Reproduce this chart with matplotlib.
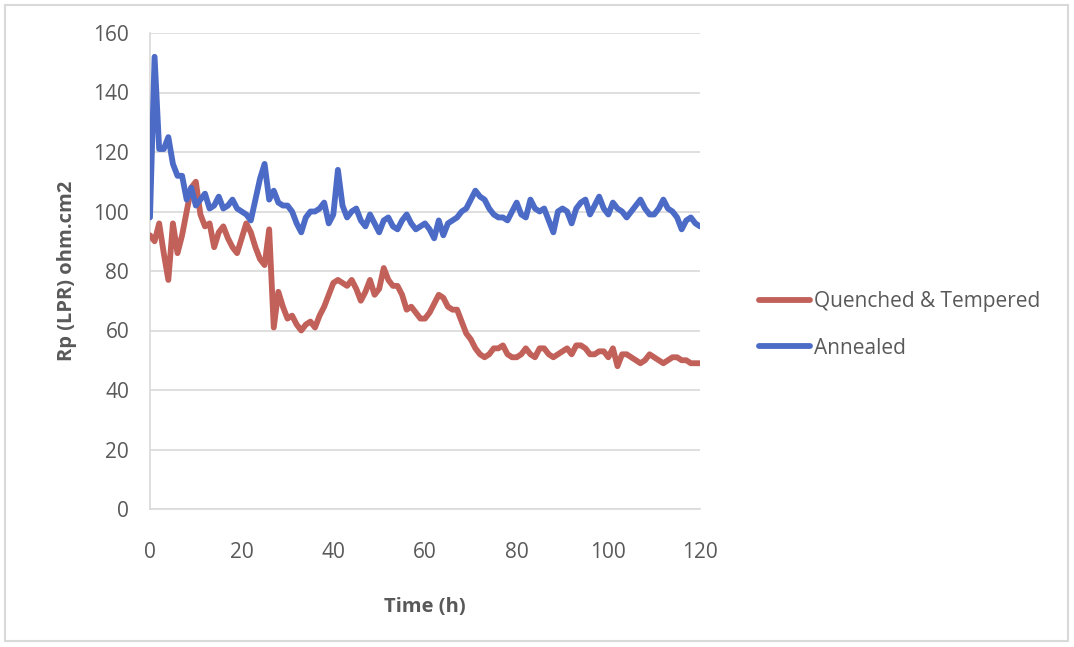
import matplotlib
matplotlib.use("Agg")
import matplotlib.pyplot as plt
from matplotlib.patches import Rectangle

# ── Data (1 h spacing) ────────────────────────────────────────────────────────
HOURS = list(range(121))

QT_RP = [
    92, 90, 96, 86, 77, 96, 86, 92, 100, 108,
    110, 99, 95, 96, 88, 93, 95, 91, 88, 86,
    91, 96, 93, 88, 84, 82, 94, 61, 73, 68,
    64, 65, 62, 60, 62, 63, 61, 65, 68, 72,
    76, 77, 76, 75, 77, 74, 70, 73, 77, 72,
    74, 81, 77, 75, 75, 72, 67, 68, 66, 64,
    64, 66, 69, 72, 71, 68, 67, 67, 63, 59,
    57, 54, 52, 51, 52, 54, 54, 55, 52, 51,
    51, 52, 54, 52, 51, 54, 54, 52, 51, 52,
    53, 54, 52, 55, 55, 54, 52, 52, 53, 53,
    51, 54, 48, 52, 52, 51, 50, 49, 50, 52,
    51, 50, 49, 50, 51, 51, 50, 50, 49, 49,
    49,
]

ANNEALED_RP = [
    98, 152, 121, 121, 125, 116, 112, 112, 104, 108,
    102, 104, 106, 101, 102, 105, 101, 102, 104, 101,
    100, 99, 97, 104, 111, 116, 104, 107, 103, 102,
    102, 100, 96, 93, 98, 100, 100, 101, 103, 96,
    99, 114, 102, 98, 100, 101, 97, 95, 99, 96,
    93, 97, 98, 95, 94, 97, 99, 96, 94, 95,
    96, 94, 91, 97, 92, 96, 97, 98, 100, 101,
    104, 107, 105, 104, 101, 99, 98, 98, 97, 100,
    103, 99, 98, 104, 101, 100, 101, 97, 93, 100,
    101, 100, 96, 101, 103, 104, 99, 102, 105, 101,
    99, 103, 101, 100, 98, 100, 102, 104, 101, 99,
    99, 101, 104, 101, 100, 98, 94, 97, 98, 96,
    95,
]

SERIES_LABELS = ["Quenched & Tempered", "Annealed"]
X_TICKS = [0, 20, 40, 60, 80, 100, 120]
Y_TICKS = [0, 20, 40, 60, 80, 100, 120, 140, 160]

# ── Style ─────────────────────────────────────────────────────────────────────
RED   = "#C2615A"
BLUE  = "#4C6BC6"
GRID  = "#D9D9D9"
TEXT  = "#595959"

plt.rcParams["font.family"] = ["Open Sans", "DejaVu Sans"]

fig = plt.figure(figsize=(10.74, 6.47), dpi=100)
ax = fig.add_axes([150 / 1074, 1 - 509 / 647, 550 / 1074, 476 / 647])

ax.plot(HOURS, QT_RP, color=RED, lw=4.2, solid_joinstyle="round",
        solid_capstyle="round", label=SERIES_LABELS[0], zorder=3)
ax.plot(HOURS, ANNEALED_RP, color=BLUE, lw=4.2, solid_joinstyle="round",
        solid_capstyle="round", label=SERIES_LABELS[1], zorder=3)

ax.set_xlim(0, 120)
ax.set_ylim(0, 160)
ax.set_xticks(X_TICKS)
ax.set_yticks(Y_TICKS)
ax.yaxis.grid(True, color=GRID, lw=1.2)
ax.set_axisbelow(True)
for side in ("top", "right"):
    ax.spines[side].set_visible(False)
for side in ("left", "bottom"):
    ax.spines[side].set_color(GRID)
    ax.spines[side].set_linewidth(1.2)

ax.tick_params(axis="both", length=0, labelsize=15, labelcolor=TEXT)
ax.tick_params(axis="y", pad=15)
ax.tick_params(axis="x", pad=24)

ax.set_xlabel("Time (h)", fontsize=14.5, fontweight="bold", color=TEXT, labelpad=24)
ax.set_ylabel("Rp (LPR) ohm.cm2", fontsize=14.5, fontweight="bold", color=TEXT, labelpad=12)

leg = ax.legend(loc="center left", bbox_to_anchor=(740 / 1074, 1 - 325 / 647),
                bbox_transform=fig.transFigure, frameon=False, fontsize=15,
                handlelength=2.45, handletextpad=0.2, labelspacing=1.2)
for txt in leg.get_texts():
    txt.set_color(TEXT)

# chart-area border
fig.patches.append(Rectangle((5 / 1074, 6 / 647), 1063 / 1074, 636 / 647,
                             transform=fig.transFigure, fill=False,
                             edgecolor=GRID, lw=1.5))

fig.savefig("out.png", dpi=100)
